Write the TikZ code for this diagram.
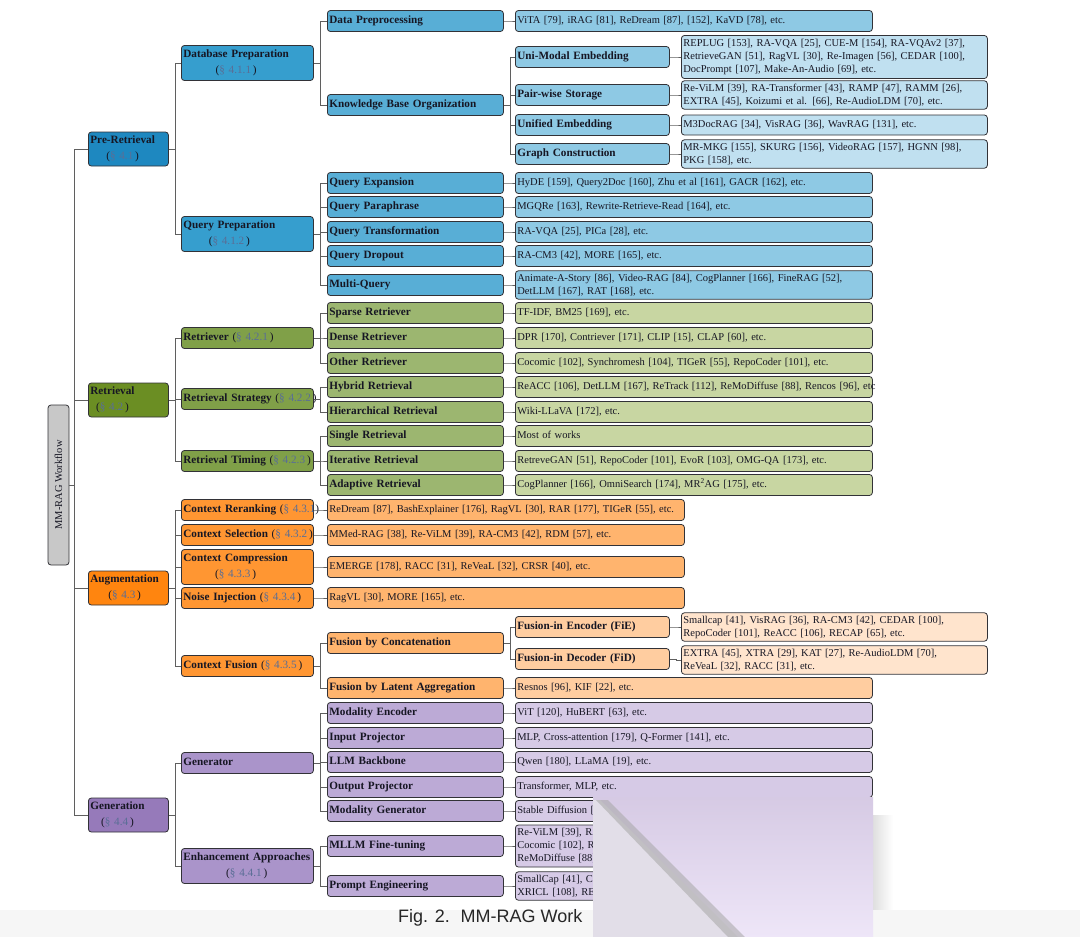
\documentclass[tikz,border=0pt]{standalone}
\usepackage{fontspec}
\setmainfont{Liberation Serif}
\newfontfamily\capfont{Liberation Sans}
\definecolor{bordc}{RGB}{50,50,55}
\definecolor{connc}{RGB}{95,95,95}
\definecolor{txtc}{RGB}{22,22,35}
\definecolor{secc}{RGB}{90,110,150}
\definecolor{rootc}{RGB}{200,200,200}
\definecolor{b1}{RGB}{30,136,192}
\definecolor{b2}{RGB}{54,158,206}
\definecolor{b3}{RGB}{88,174,214}
\definecolor{b4}{RGB}{142,201,228}
\definecolor{b5}{RGB}{192,224,240}
\definecolor{g1}{RGB}{107,142,35}
\definecolor{g2}{RGB}{128,160,72}
\definecolor{g3}{RGB}{156,182,112}
\definecolor{g4}{RGB}{200,214,162}
\definecolor{o1}{RGB}{255,133,15}
\definecolor{o2}{RGB}{255,150,50}
\definecolor{o3}{RGB}{255,180,110}
\definecolor{o4}{RGB}{255,205,160}
\definecolor{o5}{RGB}{255,228,205}
\definecolor{p1}{RGB}{150,122,186}
\definecolor{p2}{RGB}{170,148,202}
\definecolor{p3}{RGB}{188,170,214}
\definecolor{p4}{RGB}{214,202,230}
\definecolor{ov1}{RGB}{214,202,228}
\definecolor{ov2}{RGB}{238,230,248}
\definecolor{ov3}{RGB}{226,222,232}
\definecolor{stripc}{RGB}{246,246,246}
\newcommand{\sref}[1]{{\mdseries(\textcolor{secc}{§ #1}\,)}}
\newcommand{\mk}[7]{%
  \pgfmathsetmacro{\tw}{#4-4}%
  \node[#1, minimum width=#4pt, minimum height=#6pt, text width=\tw pt, anchor=west] (#2) at (#3,#5) {\begin{tabular}{@{}l@{}}#7\end{tabular}};}
\newcommand{\two}[2]{\begin{tabular}{@{}c@{}}#1\\[3pt]\sref{#2}\end{tabular}}
\tikzset{
  bx/.style={draw=bordc, line width=0.8pt, rounded corners=3pt, inner xsep=2pt, inner ysep=1pt, align=left, text=txtc},
  lab/.style={bx, font=\fontsize{11.2}{13}\selectfont\bfseries},
  leaf/.style={bx, font=\fontsize{10.5}{13.2}\selectfont},
  conn/.style={draw=connc, line width=0.9pt},
}
\begin{document}
\begin{tikzpicture}[x=1pt,y=-1pt]
\useasboundingbox (0,0) rectangle (1080,937);
\fill[white] (0,0) rectangle (1080,937);
\shade[left color=gray!25, right color=white] (873,815) rectangle (893,937);
\fill[stripc] (0,910) rectangle (1080,937);

% root
\node[bx, fill=rootc, rotate=90, minimum width=160pt, minimum height=21pt, font=\fontsize{10.5}{12}\selectfont, align=center] (root) at (58.5,485) {MM-RAG Workflow};

% level 1
\mk{lab,fill=b1}{pre}{88}{80}{149}{34}{\two{Pre-Retrieval}{4.1}}
\mk{lab,fill=g1}{ret}{88}{80}{400}{34}{\two{Retrieval}{4.2}}
\mk{lab,fill=o1}{aug}{88}{80}{588}{34}{\two{Augmentation}{4.3}}
\mk{lab,fill=p1}{gen}{88}{80}{815}{34}{\two{Generation}{4.4}}

% level 2
\mk{lab,fill=b2}{dbp}{181}{132}{63}{35}{\two{Database Preparation}{4.1.1}}
\mk{lab,fill=b2}{qp}{181}{132}{234}{35}{\two{Query Preparation}{4.1.2}}
\mk{lab,fill=g2}{rtr}{181}{132}{338}{21}{Retriever \sref{4.2.1}}
\mk{lab,fill=g2}{rst}{181}{132}{399}{21}{Retrieval Strategy \sref{4.2.2}}
\mk{lab,fill=g2}{rtm}{181}{132}{461}{21}{Retrieval Timing \sref{4.2.3}}
\mk{lab,fill=o2}{crr}{181}{132}{510}{21}{Context Reranking {\mdseries(\textcolor{secc}{§ 4.3.1})}}
\mk{lab,fill=o2}{csl}{181}{132}{535}{21}{Context Selection \sref{4.3.2}}
\mk{lab,fill=o2}{ccp}{181}{132}{567}{35}{\two{Context Compression}{4.3.3}}
\mk{lab,fill=o2}{noi}{181}{132}{598}{21}{Noise Injection \sref{4.3.4}}
\mk{lab,fill=o2}{cfu}{181}{132}{666}{21}{Context Fusion \sref{4.3.5}}
\mk{lab,fill=p2}{gtr}{181}{132}{763}{21}{Generator}
\mk{lab,fill=p2}{enh}{181}{132}{866}{35}{\two{Enhancement Approaches}{4.4.1}}

% level 3
\mk{lab,fill=b3}{dpp}{327}{176}{21}{21}{Data Preprocessing}
\mk{lab,fill=b3}{kbo}{327}{176}{105}{21}{Knowledge Base Organization}
\mk{lab,fill=b3}{qex}{327}{176}{183}{21}{Query Expansion}
\mk{lab,fill=b3}{qpa}{327}{176}{207}{21}{Query Paraphrase}
\mk{lab,fill=b3}{qtr}{327}{176}{232}{21}{Query Transformation}
\mk{lab,fill=b3}{qdr}{327}{176}{256}{21}{Query Dropout}
\mk{lab,fill=b3}{mq}{327}{176}{285}{21}{Multi-Query}
\mk{lab,fill=g3}{spr}{327}{176}{313}{21}{Sparse Retriever}
\mk{lab,fill=g3}{dns}{327}{176}{338}{21}{Dense Retriever}
\mk{lab,fill=g3}{oth}{327}{176}{363}{21}{Other Retriever}
\mk{lab,fill=g3}{hyb}{327}{176}{387}{21}{Hybrid Retrieval}
\mk{lab,fill=g3}{hie}{327}{176}{412}{21}{Hierarchical Retrieval}
\mk{lab,fill=g3}{sgl}{327}{176}{436}{21}{Single Retrieval}
\mk{lab,fill=g3}{itr}{327}{176}{461}{21}{Iterative Retrieval}
\mk{lab,fill=g3}{ada}{327}{176}{485}{21}{Adaptive Retrieval}
\mk{leaf,fill=o3}{crrL}{327}{357}{510}{21}{ReDream [87], BashExplainer [176], RagVL [30], RAR [177], TIGeR [55], etc.}
\mk{leaf,fill=o3}{cslL}{327}{357}{535}{21}{MMed-RAG [38], Re-ViLM [39], RA-CM3 [42], RDM [57], etc.}
\mk{leaf,fill=o3}{ccpL}{327}{357}{567}{21}{EMERGE [178], RACC [31], ReVeaL [32], CRSR [40], etc.}
\mk{leaf,fill=o3}{noiL}{327}{357}{598}{21}{RagVL [30], MORE [165], etc.}
\mk{lab,fill=o3}{fbc}{327}{176}{643}{21}{Fusion by Concatenation}
\mk{lab,fill=o3}{fla}{327}{176}{688}{21}{Fusion by Latent Aggregation}
\mk{lab,fill=p3}{men}{327}{176}{713}{21}{Modality Encoder}
\mk{lab,fill=p3}{inp}{327}{176}{738}{21}{Input Projector}
\mk{lab,fill=p3}{llm}{327}{176}{762}{21}{LLM Backbone}
\mk{lab,fill=p3}{outp}{327}{176}{787}{21}{Output Projector}
\mk{lab,fill=p3}{mgn}{327}{176}{811}{21}{Modality Generator}
\mk{lab,fill=p3}{mft}{327}{176}{846}{21}{MLLM Fine-tuning}
\mk{lab,fill=p3}{prm}{327}{176}{886}{21}{Prompt Engineering}

% level 4
\mk{lab,fill=b4}{ume}{515}{154}{57}{21}{Uni-Modal Embedding}
\mk{lab,fill=b4}{pws}{515}{154}{95}{21}{Pair-wise Storage}
\mk{lab,fill=b4}{uem}{515}{154}{125}{21}{Unified Embedding}
\mk{lab,fill=b4}{gcn}{515}{154}{154}{21}{Graph Construction}
\mk{lab,fill=o4}{fie}{515}{154}{627}{21}{Fusion-in Encoder (FiE)}
\mk{lab,fill=o4}{fid}{515}{154}{659}{21}{Fusion-in Decoder (FiD)}

% leaves
\mk{leaf,fill=b4}{dppL}{515}{357}{21}{21}{ViTA [79], iRAG [81], ReDream [87], [152], KaVD [78], etc.}
\mk{leaf,fill=b5}{umeL}{681}{306}{57}{43}{REPLUG [153], RA-VQA [25], CUE-M [154], RA-VQAv2 [37],\\RetrieveGAN [51], RagVL [30], Re-Imagen [56], CEDAR [100],\\DocPrompt [107], Make-An-Audio [69], etc.}
\mk{leaf,fill=b5}{pwsL}{681}{306}{95}{27}{Re-ViLM [39], RA-Transformer [43], RAMP [47], RAMM [26],\\EXTRA [45], Koizumi et al. [66], Re-AudioLDM [70], etc.}
\mk{leaf,fill=b5}{uemL}{681}{306}{125}{20}{M3DocRAG [34], VisRAG [36], WavRAG [131], etc.}
\mk{leaf,fill=b5}{gcnL}{681}{306}{154}{28}{MR-MKG [155], SKURG [156], VideoRAG [157], HGNN [98],\\PKG [158], etc.}
\mk{leaf,fill=b4}{qexL}{515}{357}{183}{21}{HyDE [159], Query2Doc [160], Zhu et al [161], GACR [162], etc.}
\mk{leaf,fill=b4}{qpaL}{515}{357}{207}{21}{MGQRe [163], Rewrite-Retrieve-Read [164], etc.}
\mk{leaf,fill=b4}{qtrL}{515}{357}{232}{21}{RA-VQA [25], PICa [28], etc.}
\mk{leaf,fill=b4}{qdrL}{515}{357}{256}{21}{RA-CM3 [42], MORE [165], etc.}
\mk{leaf,fill=b4}{mqL}{515}{357}{285}{28}{Animate-A-Story [86], Video-RAG [84], CogPlanner [166], FineRAG [52],\\DetLLM [167], RAT [168], etc.}
\mk{leaf,fill=g4}{sprL}{515}{357}{313}{21}{TF-IDF, BM25 [169], etc.}
\mk{leaf,fill=g4}{dnsL}{515}{357}{338}{21}{DPR [170], Contriever [171], CLIP [15], CLAP [60], etc.}
\mk{leaf,fill=g4}{othL}{515}{357}{363}{21}{Cocomic [102], Synchromesh [104], TIGeR [55], RepoCoder [101], etc.}
\mk{leaf,fill=g4}{hybL}{515}{357}{387}{21}{ReACC [106], DetLLM [167], ReTrack [112], ReMoDiffuse [88], Rencos [96], etc}
\mk{leaf,fill=g4}{hieL}{515}{357}{412}{21}{Wiki-LLaVA [172], etc.}
\mk{leaf,fill=g4}{sglL}{515}{357}{436}{21}{Most of works}
\mk{leaf,fill=g4}{itrL}{515}{357}{461}{21}{RetreveGAN [51], RepoCoder [101], EvoR [103], OMG-QA [173], etc.}
\mk{leaf,fill=g4}{adaL}{515}{357}{485}{21}{CogPlanner [166], OmniSearch [174], MR\textsuperscript{2}AG [175], etc.}
\mk{leaf,fill=o5}{fieL}{681}{306}{627}{28}{Smallcap [41], VisRAG [36], RA-CM3 [42], CEDAR [100],\\RepoCoder [101], ReACC [106], RECAP [65], etc.}
\mk{leaf,fill=o5}{fidL}{681}{306}{660}{28}{EXTRA [45], XTRA [29], KAT [27], Re-AudioLDM [70],\\ReVeaL [32], RACC [31], etc.}
\mk{leaf,fill=o4}{flaL}{515}{357}{688}{21}{Resnos [96], KIF [22], etc.}
\mk{leaf,fill=p4}{menL}{515}{357}{713}{21}{ViT [120], HuBERT [63], etc.}
\mk{leaf,fill=p4}{inpL}{515}{357}{738}{21}{MLP, Cross-attention [179], Q-Former [141], etc.}
\mk{leaf,fill=p4}{llmL}{515}{357}{762}{21}{Qwen [180], LLaMA [19], etc.}
\mk{leaf,fill=p4}{outL}{515}{357}{787}{21}{Transformer, MLP, etc.}
\mk{leaf,fill=p4}{mgnL}{515}{357}{811}{21}{Stable Diffusion [}
\mk{leaf,fill=p4}{mftL}{515}{357}{846}{42}{Re-ViLM [39], RA\\Cocomic [102], R\\ReMoDiffuse [88]}
\mk{leaf,fill=p4}{prmL}{515}{357}{886}{28}{SmallCap [41], C\\XRICL [108], REC}

% connectors
\foreach \c in {pre,ret,aug,gen} \draw[conn] (root.south) -- ++(5,0) |- (\c.west);
\foreach \a/\b in {pre/dbp,pre/qp,dbp/dpp,dbp/kbo,kbo/ume,kbo/pws,kbo/uem,kbo/gcn,
  dpp/dppL,ume/umeL,pws/pwsL,uem/uemL,gcn/gcnL,
  qp/qex,qp/qpa,qp/qtr,qp/qdr,qp/mq,qex/qexL,qpa/qpaL,qtr/qtrL,qdr/qdrL,mq/mqL,
  ret/rtr,ret/rst,ret/rtm,rtr/spr,rtr/dns,rtr/oth,rst/hyb,rst/hie,rtm/sgl,rtm/itr,rtm/ada,
  spr/sprL,dns/dnsL,oth/othL,hyb/hybL,hie/hieL,sgl/sglL,itr/itrL,ada/adaL,
  aug/crr,aug/csl,aug/ccp,aug/noi,aug/cfu,crr/crrL,csl/cslL,ccp/ccpL,noi/noiL,
  cfu/fbc,cfu/fla,fbc/fie,fbc/fid,fie/fieL,fid/fidL,fla/flaL,
  gen/gtr,gen/enh,gtr/men,gtr/inp,gtr/llm,gtr/outp,gtr/mgn,enh/mft,enh/prm,
  men/menL,inp/inpL,llm/llmL,outp/outL,mgn/mgnL,mft/mftL,prm/prmL}
  \draw[conn] (\a.east) -- ++(6.5,0) |- (\b.west);

% caption
\node[font=\capfont\fontsize{18}{21}\selectfont, anchor=west, inner sep=0pt, text=black!85] (cap) at (398,918) {Fig. 2.\hspace{0.6em}MM-RAG Work};

% page-curl overlay
\shade[top color=ov1, bottom color=ov2] (593,797) rectangle (873,937);
\fill[ov3] (593,800) -- (600,800) -- (738,937) -- (593,937) -- cycle;
\fill[gray!70, opacity=0.55] (596,800) -- (608,800) -- (745,937) -- (728,937) -- cycle;
\end{tikzpicture}
\end{document}
